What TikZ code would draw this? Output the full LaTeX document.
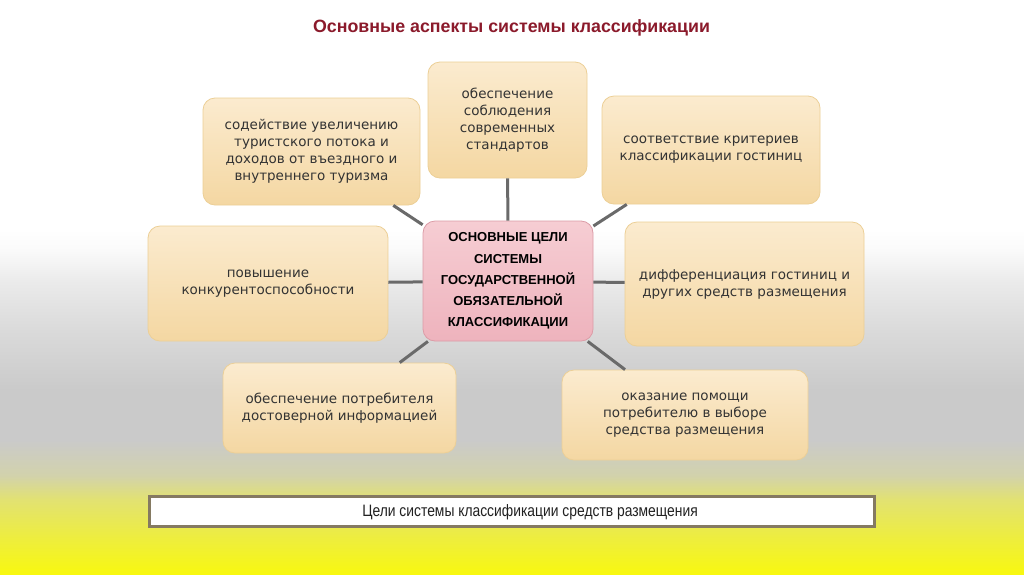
\documentclass[tikz,border=0pt]{standalone}
\usepackage{fontspec}
\setmainfont{DejaVu Sans}
\newfontfamily\arialfont{Liberation Sans}
\newfontfamily\narrowfont[FakeStretch=0.84]{Liberation Sans}
\usetikzlibrary{positioning}

\definecolor{boxtop}{HTML}{FBEBCF}
\definecolor{boxbot}{HTML}{F4D7A2}
\definecolor{boxline}{HTML}{ECCF96}
\definecolor{pinktop}{HTML}{F6CDD3}
\definecolor{pinkbot}{HTML}{EEB3BD}
\definecolor{pinkline}{HTML}{DC9CA7}
\definecolor{linkgray}{HTML}{6A6A6A}
\definecolor{titlered}{HTML}{8B1A2B}
\definecolor{bannerline}{HTML}{857A62}
\definecolor{boxtext}{HTML}{333333}
\definecolor{bgyellow}{HTML}{F8F810}
\definecolor{bgyellowmid}{HTML}{EEEE3C}
\definecolor{bgolive}{HTML}{E2E272}
\definecolor{bgkhaki}{HTML}{D2D2AC}
\definecolor{bggray}{HTML}{CACACA}
\definecolor{bggraylight}{HTML}{DADADA}
\definecolor{bgpale}{HTML}{EBEBEB}
\definecolor{bgwhite}{HTML}{FAFAFA}

\pgfdeclareverticalshading{slidebg}{100bp}{color(0bp)=(bgyellow); color(25bp)=(bgyellow);
  color(28bp)=(bgyellowmid); color(31.5bp)=(bgolive); color(33.6bp)=(bgkhaki);
  color(36.7bp)=(bggray); color(41bp)=(bggray); color(46.2bp)=(bggraylight);
  color(50.6bp)=(bgpale); color(53.2bp)=(bgwhite); color(55bp)=(white); color(100bp)=(white)}

\begin{document}
\begin{tikzpicture}[
    x=1pt, y=-1pt,
    goal/.style={rectangle, rounded corners=12pt, draw=boxline, line width=0.8pt,
        top color=boxtop, bottom color=boxbot, align=center, text=boxtext,
        font=\fontsize{13.5}{17}\selectfont, inner sep=0pt},
    centre/.style={rectangle, rounded corners=12pt, draw=pinkline, line width=0.8pt,
        top color=pinktop, bottom color=pinkbot, align=center, text=black,
        font=\arialfont\bfseries\fontsize{13}{21.2}\selectfont,
        minimum width=170pt, minimum height=120pt, inner sep=0pt},
    link/.style={draw=linkgray, line width=3pt}
]

% ============= BACKGROUND =============
\useasboundingbox (0,0) rectangle (1024,574);
\shade[shading=slidebg] (0,0) rectangle (1024,574);

% Title
\node[font=\arialfont\bfseries\fontsize{17.8}{21}\selectfont, text=titlered] (title) at (511.5,28) {Основные аспекты системы классификации};

% ============= GOALS =============
\node[centre] (aims) at (508,281) {ОСНОВНЫЕ ЦЕЛИ\\СИСТЕМЫ\\ГОСУДАРСТВЕННОЙ\\ОБЯЗАТЕЛЬНОЙ\\КЛАССИФИКАЦИИ};

\node[goal, minimum width=159pt, minimum height=116pt] (standards) at (507.5,120) {обеспечение\\соблюдения\\современных\\стандартов};
\node[goal, minimum width=217pt, minimum height=107pt] (tourism) at (311.5,151.5) {содействие увеличению\\туристского потока и\\доходов от въездного и\\внутреннего туризма};
\node[goal, minimum width=218pt, minimum height=108pt] (criteria) at (711,150) {соответствие критериев\\классификации гостиниц};
\node[goal, minimum width=240pt, minimum height=115pt] (compete) at (268,283.5) {повышение\\конкурентоспособности};
\node[goal, minimum width=239pt, minimum height=124pt] (differ) at (744.5,284) {дифференциация гостиниц и\\других средств размещения};
\node[goal, minimum width=233pt, minimum height=90pt] (inform) at (339.5,408) {обеспечение потребителя\\достоверной информацией};
\node[goal, minimum width=246pt, minimum height=90pt] (choice) at (685,415) {оказание помощи\\потребителю в выборе\\средства размещения};

% Links from the centre
\foreach \goal in {standards, tourism, criteria, compete, differ, inform, choice} {
    \draw[link] (aims) -- (\goal);
}

% ============= CAPTION =============
\draw[draw=bannerline, line width=3pt, fill=white] (149.5,496.5) rectangle (874.5,526.5);
\node[font=\narrowfont\fontsize{16.5}{19}\selectfont, text=black!87] (caption) at (530,512) {Цели системы классификации средств размещения};

\end{tikzpicture}
\end{document}
